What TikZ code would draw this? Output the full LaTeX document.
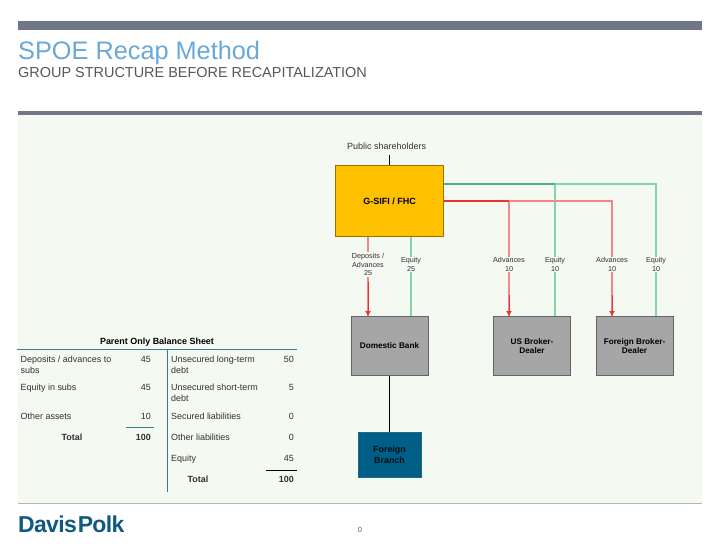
\documentclass[tikz,border=0pt]{standalone}
\usepackage{fontspec}
\setmainfont{Liberation Sans}
\usetikzlibrary{arrows.meta}
\definecolor{barc}{HTML}{707888}
\definecolor{bgc}{HTML}{F4F9F1}
\definecolor{botc}{HTML}{B4B6B4}
\definecolor{titlec}{HTML}{6AA8D8}
\definecolor{subc}{HTML}{58585A}
\definecolor{goldc}{HTML}{FFC000}
\definecolor{grayc}{HTML}{A6A6A6}
\definecolor{branchc}{HTML}{005F87}
\definecolor{tealc}{HTML}{3A7A92}
\definecolor{logoc}{HTML}{0F5A80}
\definecolor{redA}{HTML}{F08888}
\definecolor{redB}{HTML}{EE3030}
\definecolor{greenA}{HTML}{86D4AA}
\definecolor{greenB}{HTML}{4CB084}
\definecolor{txtc}{HTML}{303030}
\tikzset{
  entity/.style={draw=#1!60!black,line width=.9pt,inner sep=0pt,align=center,font=\fontsize{8.2}{9.7}\selectfont\bfseries,text=black},
  flowlabel/.style={fill=bgc,inner sep=1pt,align=center,text=txtc,font=\fontsize{7.2}{8.7}\selectfont},
  redline/.style={draw=redA,line width=1.3pt},
  redstrong/.style={draw=redB,line width=1.3pt},
  greenline/.style={draw=greenA,line width=1.3pt},
  greenstrong/.style={draw=greenB,line width=1.5pt},
  tip/.style={-{Latex[length=5pt,width=6pt]},draw=redB,line width=1pt},
  tl/.style={anchor=base west,inner sep=0pt,text=txtc,font=\fontsize{8.95}{11}\selectfont},
  tr/.style={anchor=base east,inner sep=0pt,text=txtc,font=\fontsize{8.95}{11}\selectfont},
  tb/.style={anchor=base,inner sep=0pt,text=txtc,font=\fontsize{8.95}{11}\selectfont\bfseries},
  tbr/.style={anchor=base east,inner sep=0pt,text=txtc,font=\fontsize{8.95}{11}\selectfont\bfseries},
}
\begin{document}
\begin{tikzpicture}[x=1pt,y=-1pt]
\useasboundingbox (0,0) rectangle (720,557);
\fill[white] (0,0) rectangle (720,557);
% page furniture
\fill[barc] (18,21) rectangle (702,30);
\fill[barc] (18,111) rectangle (702,115);
\fill[bgc] (18,115) rectangle (702,503);
\fill[botc] (18,503) rectangle (702,504.2);
\node[anchor=base west,inner sep=0pt,text=titlec,font=\fontsize{25.3}{30}\selectfont] (title) at (18,59.5) {SPOE Recap Method};
\node[anchor=base west,inner sep=0pt,text=subc,font=\fontsize{14.45}{16}\selectfont] (subtitle) at (18,77.3) {GROUP STRUCTURE BEFORE RECAPITALIZATION};
% entities
\node[inner sep=0pt,text=txtc,font=\fontsize{9}{10}\selectfont] (pub) at (386.7,146) {Public shareholders};
\node[entity=goldc,fill=goldc,minimum width=108pt,minimum height=71pt,font=\fontsize{9}{10}\selectfont\bfseries] (gsifi) at (389.5,201) {G-SIFI / FHC};
\node[entity=grayc,fill=grayc,minimum width=77pt,minimum height=59pt] (dom) at (389.5,346) {Domestic Bank};
\node[entity=grayc,fill=grayc,minimum width=77pt,minimum height=59pt] (us) at (532,346) {US Broker-\\Dealer};
\node[entity=grayc,fill=grayc,minimum width=77pt,minimum height=59pt] (fb) at (634.5,346) {Foreign Broker-\\Dealer};
\node[draw=branchc!70!gray,line width=.6pt,fill=branchc,minimum width=63pt,minimum height=45pt,inner sep=0pt,align=center,text=black!85!branchc,font=\fontsize{8.9}{10.7}\selectfont\bfseries] (fbr) at (389.5,454.8) {Foreign\\Branch};
% flow anchors
\coordinate (xa) at (368,0);
\coordinate (xb) at (411,0);
\coordinate (xc) at (509,0);
\coordinate (xd) at (555,0);
\coordinate (xe) at (612,0);
\coordinate (xf) at (656,0);
\coordinate (ya) at (0,184);
\coordinate (yb) at (0,201);
% black links
\draw[black,line width=.8pt] (gsifi.north) -- (389.5,155);
\draw[black,line width=.8pt] (dom.south) -- (fbr.north);
% horizontals and verticals
\draw[greenline] (xd |- ya) -- (xf |- ya) -- (fb.north -| xf);
\draw[greenline] (xd |- ya) -- (us.north -| xd);
\draw[greenstrong] (gsifi.east |- ya) -- (xd |- ya);
\draw[greenline] (gsifi.south -| xb) -- (dom.north -| xb);
\draw[redline] (xc |- yb) -- (xe |- yb) -- (fb.north -| xe);
\draw[redline] (xc |- yb) -- (us.north -| xc);
\draw[redstrong] (gsifi.east |- yb) -- (xc |- yb);
\draw[redline] (gsifi.south -| xa) -- (dom.north -| xa);
% arrowheads
\draw[tip] (368,282) -- (dom.north -| xa);
\draw[tip] (509,295) -- (us.north -| xc);
\draw[tip] (612,295) -- (fb.north -| xe);
% labels
\node[flowlabel] (l1) at (368,264.5) {Deposits /\\Advances\\25};
\node[flowlabel] (l2) at (411,264.5) {Equity\\25};
\node[flowlabel] (l3) at (509,264.5) {Advances\\10};
\node[flowlabel] (l4) at (555,264.5) {Equity\\10};
\node[flowlabel] (l5) at (612,264.5) {Advances\\10};
\node[flowlabel] (l6) at (656,264.5) {Equity\\10};
% balance sheet
\node[anchor=base,inner sep=0pt,text=black,font=\fontsize{8.95}{11}\selectfont\bfseries] (bs) at (157,344) {Parent Only Balance Sheet};
\draw[tealc,line width=1.2pt] (17,349.5) -- (297,349.5);
\draw[tealc,line width=1.2pt] (167.5,349.5) -- (167.5,492);
\draw[tealc,line width=1.2pt] (126,427.8) -- (154,427.8);
\draw[black,line width=.9pt] (266,470.3) -- (297,470.3);
\node[tl] (a1) at (20.5,362) {Deposits / advances to};
\node[tl] (a1b) at (20.5,373) {subs};
\node[tr] (a1n) at (151,362) {45};
\node[tl] (a2) at (20.5,390.5) {Equity in subs};
\node[tr] (a2n) at (151,390.5) {45};
\node[tl] (a3) at (20.5,419) {Other assets};
\node[tr] (a3n) at (151,419) {10};
\node[tb] (a4) at (72,440) {Total};
\node[tbr] (a4n) at (151,440) {100};
\node[tl] (b1) at (171,362) {Unsecured long-term};
\node[tl] (b1b) at (171,373) {debt};
\node[tr] (b1n) at (294,362) {50};
\node[tl] (b2) at (171,390.5) {Unsecured short-term};
\node[tl] (b2b) at (171,401.5) {debt};
\node[tr] (b2n) at (294,390.5) {5};
\node[tl] (b3) at (171,419) {Secured liabilities};
\node[tr] (b3n) at (294,419) {0};
\node[tl] (b4) at (171,440) {Other liabilities};
\node[tr] (b4n) at (294,440) {0};
\node[tl] (b5) at (171,461.5) {Equity};
\node[tr] (b5n) at (294,461.5) {45};
\node[tb] (b6) at (198,482.5) {Total};
\node[tbr] (b6n) at (294,482.5) {100};
% footer
\node[anchor=base west,inner sep=0pt,text=logoc,font=\fontsize{23}{26}\selectfont\bfseries] (logo) at (18,532) {\addfontfeatures{LetterSpace=-3}Davis\kern1pt Polk};
\node[inner sep=0pt,text=subc,font=\fontsize{7.5}{8}\selectfont] (pg) at (360,530) {0};
\end{tikzpicture}
\end{document}
